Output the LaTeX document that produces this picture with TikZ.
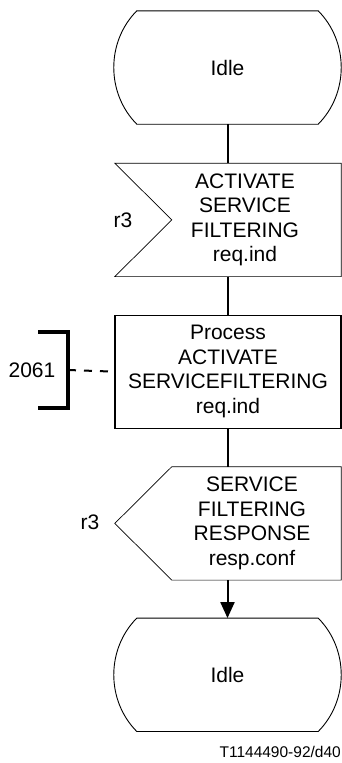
\documentclass[tikz,border=0pt]{standalone}
\usepackage{fontspec}
\setmainfont{Liberation Sans}
\usetikzlibrary{positioning,arrows.meta}

\begin{document}
\begin{tikzpicture}[
x=1pt, y=1pt,
every node/.style={font=\fontsize{21}{24.5}\selectfont, align=center, inner sep=0pt},
state/.style={minimum width=227pt, minimum height=113pt},
sig/.style={minimum height=113pt},
task/.style={draw, line width=1.1pt, minimum width=226pt, minimum height=113pt},
outline/.style={line width=0.9pt, line join=round},
sigline/.style={line width=0.7pt, line join=miter},
conn/.style={line width=2pt},
arr/.style={conn, -{Triangle[length=16pt,width=14pt]}},
bracket/.style={line width=4pt, line join=miter},
refline/.style={line width=2pt, dash pattern=on 8pt off 8pt}
]
\useasboundingbox (0,0) rectangle (342,-763);
\node[state] (idle1) at (227.5,-67.5) {Idle};
\node[sig, minimum width=192pt, below=39pt of idle1, xshift=17.5pt] (actreq) {ACTIVATE\\SERVICE\\FILTERING\\req.ind};
\node[task, below=38pt of actreq, xshift=-17pt] (proc) {Process\\ACTIVATE\\SERVICEFILTERING\\req.ind};
\node[sig, minimum width=178pt, below=38pt of proc, xshift=24pt] (fltresp) {SERVICE\\FILTERING\\RESPONSE\\resp.conf};
\node[state, below=38pt of fltresp, xshift=-24.5pt] (idle2) {Idle};
% state outlines
\foreach \n in {idle1,idle2}
  \draw[outline] ([xshift=23pt]\n.north west) -- ([xshift=-23pt]\n.north east)
    .. controls +(30.7,-31) and +(30.7,31) .. ([xshift=-23pt]\n.south east)
    -- ([xshift=23pt]\n.south west)
    .. controls +(-30.7,31) and +(-30.7,-31) .. ([xshift=23pt]\n.north west) -- cycle;
% signal outlines
\draw[sigline] ([xshift=-34pt]actreq.north west) -- (actreq.north east) -- (actreq.south east)
  -- ([xshift=-34pt]actreq.south west) -- ([xshift=23pt]actreq.west) -- cycle;
\draw[sigline] ([xshift=9pt]fltresp.north west) -- (fltresp.north east) -- (fltresp.south east)
  -- ([xshift=9pt]fltresp.south west) -- ([xshift=-48pt]fltresp.west) -- cycle;
\node (r3in) at (123,-220) {r3};
\node (r3out) at (90,-522) {r3};
\node (sdl) at (32,-370) {2061};
\coordinate (brk) at (68,-370);
\draw[bracket] ([shift={(-30,38)}]brk) -| ([yshift=-38pt]brk) -- ++(-30,0);
\draw[refline] (brk) -- (proc.west);
\draw[conn] (idle1.south) -- (idle1.south |- actreq.north);
\draw[conn] (proc.north |- actreq.south) -- (proc.north);
\draw[conn] (proc.south) -- (proc.south |- fltresp.north);
\draw[arr] (idle2.north |- fltresp.south) -- (idle2.north);
\node[font=\fontsize{15.5}{18}\selectfont, anchor=base east] (figid) at (341,-757) {T1144490-92/d40};
\end{tikzpicture}
\end{document}
